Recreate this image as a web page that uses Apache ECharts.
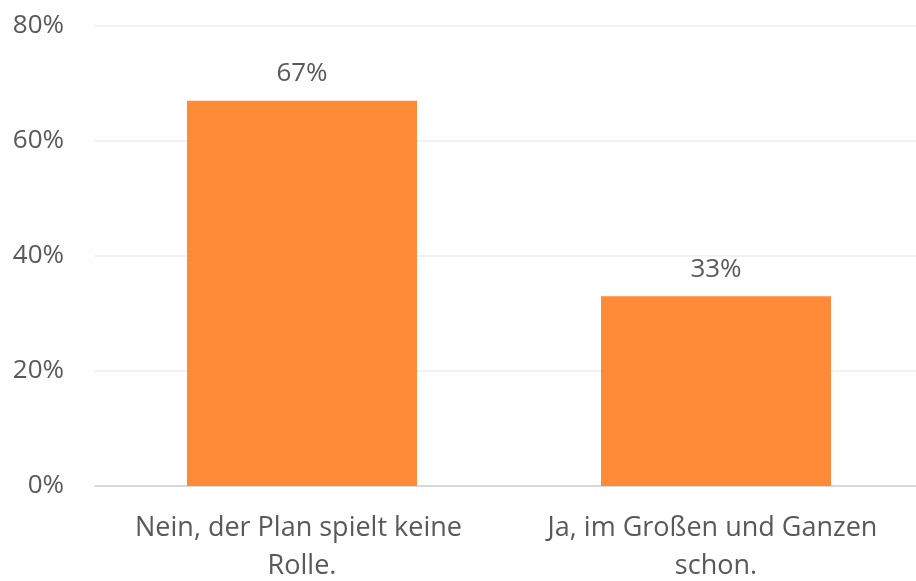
<!DOCTYPE html>
<html><head><meta charset="utf-8">
<script src="https://cdn.jsdelivr.net/npm/echarts@6/dist/echarts.min.js"></script>
<style>html,body{margin:0;padding:0;background:#fff}#c{width:916px;height:581px}</style>
</head><body><div id="c"></div>
<script>
const categories = ["Nein, der Plan spielt keine Rolle.", "Ja, im Großen und Ganzen schon."];
const values = [67, 33];
const yTicks = [0, 20, 40, 60, 80];

const chart = echarts.init(document.getElementById('c'), null, {renderer: 'canvas'});
const font = '"Open Sans", "Noto Sans", sans-serif';
chart.setOption({
  animation: false,
  grid: {left: 95, top: 26, width: 828, height: 460, containLabel: false, outerBoundsMode: 'none'},
  xAxis: {
    type: 'category', data: categories,
    axisLine: {lineStyle: {color: '#D9D9D9', width: 2}},
    axisTick: {show: false},
    axisLabel: {color: '#595959', fontFamily: font, fontSize: 27, margin: 23, lineHeight: 38,
      width: 390, overflow: 'break', interval: 0}
  },
  yAxis: {
    type: 'value', min: yTicks[0], max: yTicks[yTicks.length-1], interval: 20,
    axisLine: {show: false}, axisTick: {show: false},
    splitLine: {lineStyle: {color: '#F2F2F2', width: 2}},
    axisLabel: {color: '#595959', fontFamily: font, fontSize: 26, margin: 31, formatter: v => v + '%'}
  },
  series: [{
    type: 'bar', data: values, barWidth: 230,
    itemStyle: {color: '#FF8A37'},
    label: {show: true, position: 'top', distance: 14, color: '#595959', fontFamily: font, fontSize: 26,
      formatter: p => p.value + '%'}
  }]
});
</script></body></html>
